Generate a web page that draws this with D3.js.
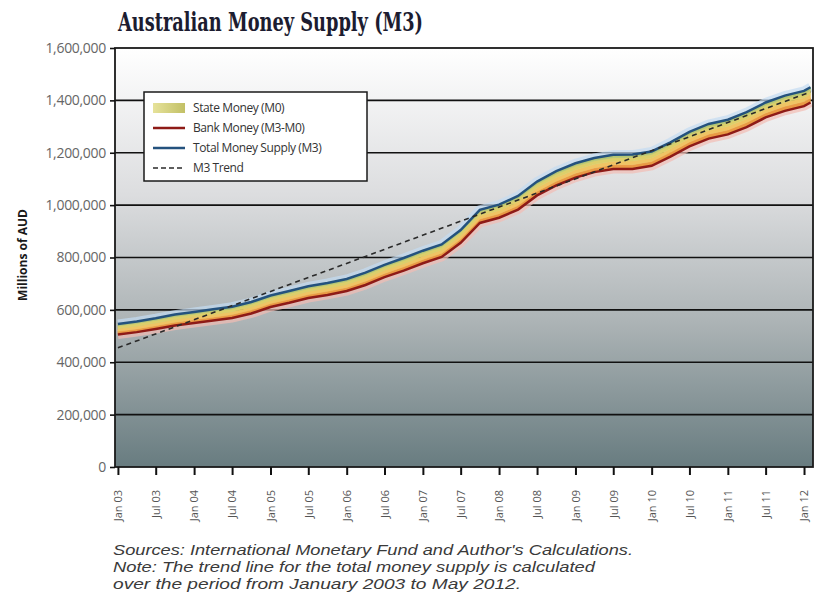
<!DOCTYPE html>
<html>
<head>
<meta charset="utf-8">
<script src="https://cdn.jsdelivr.net/npm/d3@7"></script>
<style>
  body { margin: 0; background: #fff; }
  svg { display: block; }
</style>
</head>
<body>
<div id="grafico"></div>
<script>
//Datos (millones de AUD, trimestral)
var months = ["2003-01","2003-04","2003-07","2003-10",
              "2004-01","2004-04","2004-07","2004-10",
              "2005-01","2005-04","2005-07","2005-10",
              "2006-01","2006-04","2006-07","2006-10",
              "2007-01","2007-04","2007-07","2007-10",
              "2008-01","2008-04","2008-07","2008-10",
              "2009-01","2009-04","2009-07","2009-10",
              "2010-01","2010-04","2010-07","2010-10",
              "2011-01","2011-04","2011-07","2011-10",
              "2012-01","2012-02"];
var m3 = [546000, 556000, 568000, 582000,
          592000, 602000, 612000, 630000,
          655000, 672000, 690000, 703000,
          718000, 742000, 772000, 798000,
          826000, 850000, 905000, 982000,
          1002000, 1035000, 1090000, 1130000,
          1160000, 1180000, 1192000, 1193000,
          1205000, 1240000, 1280000, 1310000,
          1326000, 1355000, 1392000, 1418000,
          1436000, 1450000];
var m0 = [40000, 41000, 41000, 42000,
          42000, 43000, 43000, 44000,
          44000, 45000, 45000, 46000,
          46000, 47000, 47000, 48000,
          48000, 48000, 49000, 50000,
          50000, 52000, 53000, 55000,
          55000, 54000, 54000, 55000,
          55000, 55000, 56000, 56000,
          56000, 57000, 57000, 58000,
          58000, 58000];
var trendMonths = ["2003-01", "2012-02"];
var trendValues = [455000, 1432000];
var yTicks = [0, 200000, 400000, 600000, 800000, 1000000, 1200000, 1400000, 1600000];
var xTickMonths = ["2003-01","2003-07","2004-01","2004-07","2005-01","2005-07","2006-01","2006-07",
                   "2007-01","2007-07","2008-01","2008-07","2009-01","2009-07","2010-01","2010-07",
                   "2011-01","2011-07","2012-01"];
var legendLabels = ["State Money (M0)", "Bank Money (M3-M0)", "Total Money Supply (M3)", "M3 Trend"];
var notes = ["Sources: International Monetary Fund and Author's Calculations.",
             "Note: The trend line for the total money supply is calculated",
             "over the period from January 2003 to May 2012."];
var notesWidth = [520, 482, 408];

var parseMonth = d3.timeParse("%Y-%m");
var fmtTick = d3.timeFormat("%b %y");

var svg = d3.select("#grafico").append("svg")
    .attr("width", 817)
    .attr("height", 602),
    margin = {top: 48, right: 4, bottom: 135, left: 115},
    width = 817 - margin.left - margin.right,
    height = 602 - margin.top - margin.bottom,
    g = svg.append("g").attr("transform", "translate(" + margin.left + "," + margin.top + ")");

var x = d3.scaleTime()
    .domain([new Date(2002, 11, 18), new Date(2012, 1, 13)])
    .range([0, width]);

var y = d3.scaleLinear()
    .domain([0, 1600000])
    .range([height, 0]);

var data = months.map(function(m, i) {
    return {date: parseMonth(m), m3: m3[i], m0: m0[i], bank: m3[i] - m0[i]};
});

//Fondo degradado
var defs = svg.append("defs");
var grad = defs.append("linearGradient")
    .attr("id", "bg")
    .attr("x1", 0).attr("y1", 0).attr("x2", 0).attr("y2", 1);
grad.append("stop").attr("offset", "0%").attr("stop-color", "#ffffff");
grad.append("stop").attr("offset", "35%").attr("stop-color", "#dcdddf");
grad.append("stop").attr("offset", "65%").attr("stop-color", "#adb4b6");
grad.append("stop").attr("offset", "100%").attr("stop-color", "#687c80");

var legGrad = defs.append("linearGradient")
    .attr("id", "legsw")
    .attr("x1", 0).attr("y1", 0).attr("x2", 1).attr("y2", 0);
legGrad.append("stop").attr("offset", "0%").attr("stop-color", "#e6e29a");
legGrad.append("stop").attr("offset", "100%").attr("stop-color", "#c2c066");

g.append("rect")
    .attr("width", width)
    .attr("height", height)
    .attr("fill", "url(#bg)");

//Grilla
g.append("g")
    .selectAll("line")
    .data(yTicks.slice(1, -1))
    .enter().append("line")
    .attr("x1", 0)
    .attr("x2", width)
    .attr("y1", function(d) { return y(d); })
    .attr("y2", function(d) { return y(d); })
    .attr("stroke", "#111")
    .attr("stroke-width", 1.6);

//Halo de las lineas
var lineM3 = d3.line()
    .x(function(d) { return x(d.date); })
    .y(function(d) { return y(d.m3); });
var lineBank = d3.line()
    .x(function(d) { return x(d.date); })
    .y(function(d) { return y(d.bank); });

g.append("path").datum(data)
    .attr("d", lineM3)
    .attr("fill", "none")
    .attr("stroke", "#c3dcf2")
    .attr("stroke-width", 9)
    .attr("opacity", 0.7);
g.append("path").datum(data)
    .attr("d", lineBank)
    .attr("fill", "none")
    .attr("stroke", "#f2bcb4")
    .attr("stroke-width", 9)
    .attr("opacity", 0.7);

//Banda M0 en franjas
var strips = [
    {f0: 0.00, f1: 0.30, color: "#e99a45"},
    {f0: 0.30, f1: 0.55, color: "#efc464"},
    {f0: 0.55, f1: 0.80, color: "#dccf6a"},
    {f0: 0.80, f1: 1.00, color: "#b4c672"}
];
strips.forEach(function(s) {
    var area = d3.area()
        .x(function(d) { return x(d.date); })
        .y0(function(d) { return y(d.bank + s.f0 * d.m0); })
        .y1(function(d) { return y(d.bank + s.f1 * d.m0); });
    g.append("path").datum(data)
        .attr("d", area)
        .attr("fill", s.color)
        .attr("stroke", s.color)
        .attr("stroke-width", 0.5);
});

g.append("path").datum(data)
    .attr("d", lineBank)
    .attr("fill", "none")
    .attr("stroke", "#8e1b17")
    .attr("stroke-width", 2.5);

g.append("path").datum(data)
    .attr("d", lineM3)
    .attr("fill", "none")
    .attr("stroke", "#24527e")
    .attr("stroke-width", 2.5);

//Tendencia
var trend = trendMonths.map(function(m, i) { return {date: parseMonth(m), v: trendValues[i]}; });
g.append("path").datum(trend)
    .attr("d", d3.line()
        .x(function(d) { return x(d.date); })
        .y(function(d) { return y(d.v); }))
    .attr("fill", "none")
    .attr("stroke", "#2a2a2a")
    .attr("stroke-width", 1.6)
    .attr("stroke-dasharray", "5,4");

//Borde
g.append("rect")
    .attr("width", width)
    .attr("height", height)
    .attr("fill", "none")
    .attr("stroke", "#1a1a1a")
    .attr("stroke-width", 1.8);

//Eje Y
var yAxis = g.append("g")
    .call(d3.axisLeft(y).tickValues(yTicks).tickSize(5).tickPadding(4).tickFormat(d3.format(",")));
yAxis.select(".domain").remove();
yAxis.selectAll("line").attr("stroke", "#111").attr("stroke-width", 1.6);
yAxis.selectAll("text")
    .attr("font-family", "'Open Sans', sans-serif")
    .attr("font-size", 14)
    .attr("fill", "#666")
    .attr("letter-spacing", "-0.3");

//Eje X
var xAxis = g.append("g")
    .attr("transform", "translate(0," + height + ")")
    .call(d3.axisBottom(x)
        .tickValues(xTickMonths.map(parseMonth))
        .tickSize(8)
        .tickFormat(fmtTick));
xAxis.select(".domain").remove();
xAxis.selectAll("line").attr("stroke", "#111").attr("stroke-width", 2);
xAxis.selectAll("text")
    .attr("font-family", "'Open Sans', sans-serif")
    .attr("font-size", 11)
    .attr("fill", "#555")
    .attr("text-anchor", "end")
    .attr("dy", "0.35em")
    .attr("transform", "translate(0,10) rotate(-90)")
    .attr("x", -13)
    .attr("y", 0);

//Titulo
svg.append("text")
    .attr("x", 118)
    .attr("y", 31)
    .attr("font-family", "'DejaVu Serif', serif")
    .attr("font-weight", "bold")
    .attr("font-size", 26)
    .attr("fill", "#1c1c30")
    .attr("textLength", 305)
    .attr("lengthAdjust", "spacingAndGlyphs")
    .text("Australian Money Supply (M3)");

//Titulo eje Y
svg.append("text")
    .attr("transform", "translate(27,255) rotate(-90)")
    .attr("text-anchor", "middle")
    .attr("font-family", "'Open Sans', sans-serif")
    .attr("font-weight", "bold")
    .attr("font-size", 12)
    .attr("fill", "#1a1a1a")
    .text("Millions of AUD");

//Leyenda
var legend = svg.append("g").attr("transform", "translate(144,92)");
legend.append("rect")
    .attr("width", 223)
    .attr("height", 89)
    .attr("fill", "#ffffff")
    .attr("stroke", "#1a1a1a")
    .attr("stroke-width", 1.5);

var items = legend.selectAll("g")
    .data(legendLabels)
    .enter().append("g")
    .attr("transform", function(d, i) { return "translate(0," + (16 + i * 20) + ")"; });

items.each(function(d, i) {
    var it = d3.select(this);
    if (i == 0) {
        it.append("rect").attr("x", 9).attr("y", -5).attr("width", 32).attr("height", 10).attr("fill", "url(#legsw)");
    } else {
        it.append("line")
            .attr("x1", 9).attr("x2", 41)
            .attr("stroke", i == 1 ? "#8e1b17" : (i == 2 ? "#24527e" : "#2a2a2a"))
            .attr("stroke-width", i == 3 ? 1.5 : 2.5)
            .attr("stroke-dasharray", i == 3 ? "5,3" : null);
    }
});

items.append("text")
    .attr("x", 49)
    .attr("dy", "0.35em")
    .attr("font-family", "'Open Sans', sans-serif")
    .attr("font-size", 12)
    .attr("fill", "#333")
    .attr("letter-spacing", "-0.4")
    .text(function(d) { return d; });

//Notas
svg.append("g").selectAll("text")
    .data(notes)
    .enter().append("text")
    .attr("x", 113)
    .attr("y", function(d, i) { return 555 + i * 17; })
    .attr("font-family", "'Liberation Sans', sans-serif")
    .attr("font-style", "italic")
    .attr("font-size", 14.5)
    .attr("fill", "#3a3a3a")
    .attr("textLength", function(d, i) { return notesWidth[i]; })
    .attr("lengthAdjust", "spacingAndGlyphs")
    .text(function(d) { return d; });
</script>
</body>
</html>
